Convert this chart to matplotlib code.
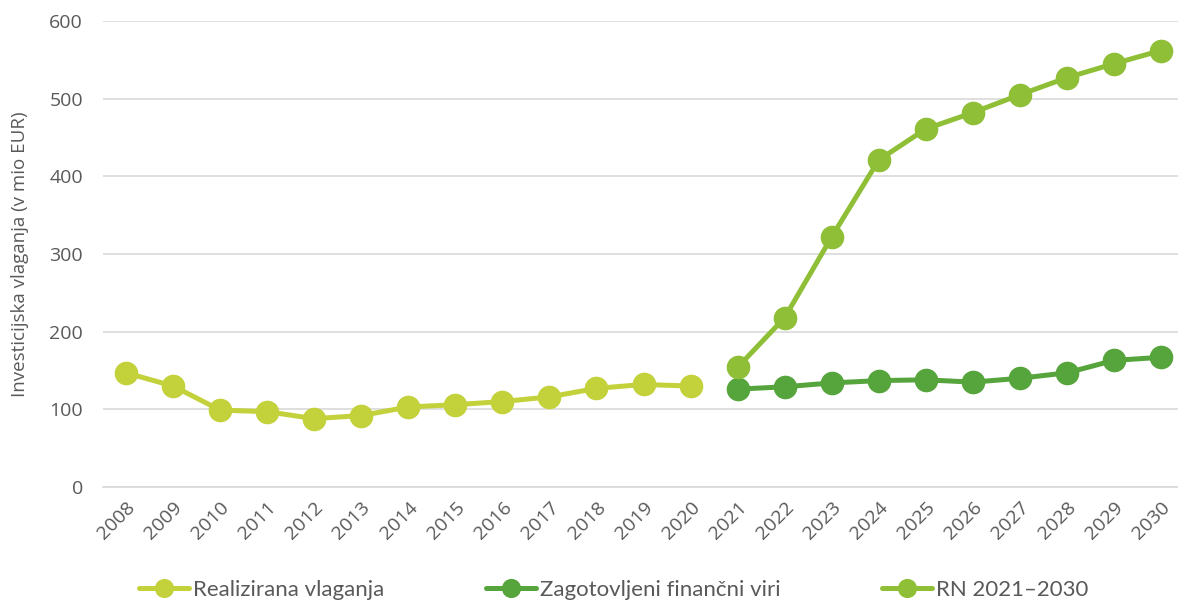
import matplotlib.pyplot as plt

# data
years = [str(y) for y in range(2008, 2031)]
realized_years = years[:13]
realized = [147, 130, 99, 97, 88, 92, 103, 106, 110, 116, 127, 132, 130]
plan_years = years[13:]
secured = [126, 129, 134, 137, 138, 135, 140, 147, 163, 167]
rn_plan = [154, 218, 322, 421, 461, 482, 505, 527, 545, 562]

c_realized = "#C3D13B"
c_secured = "#56A43C"
c_rn = "#8FBF36"
grey = "#595959"

plt.rcParams["font.family"] = ["Open Sans", "DejaVu Sans"]

fig = plt.figure(figsize=(11.78, 6.06), dpi=100)
ax = fig.add_axes([102.5 / 1178, 1 - 487 / 606, 1082 / 1178, 466 / 606])

xr = [years.index(y) for y in realized_years]
xp = [years.index(y) for y in plan_years]

style = dict(linewidth=3.6, marker="o", markersize=16, solid_capstyle="round")
ax.plot(xr, realized, color=c_realized, label="Realizirana vlaganja", **style)
ax.plot(xp, secured, color=c_secured, label="Zagotovljeni finančni viri", **style)
ax.plot(xp, rn_plan, color=c_rn, label="RN 2021–2030", **style)

ax.set_xlim(-0.5, len(years) - 0.5)
ax.set_ylim(0, 600)
ax.set_yticks(range(0, 601, 100))
ax.set_xticks(range(len(years)))
ax.set_xticklabels(years, rotation=45, ha="right", rotation_mode="anchor")
ax.tick_params(axis="both", length=0, colors=grey, labelsize=14)
ax.tick_params(axis="y", pad=14)
ax.tick_params(axis="x", pad=8)

ax.grid(axis="y", color="#D9D9D9", linewidth=1.2)
ax.set_axisbelow(True)
for side in ["left", "right", "top"]:
    ax.spines[side].set_visible(False)
ax.spines["bottom"].set_color("#D9D9D9")
ax.spines["bottom"].set_linewidth(1.2)

ax.set_ylabel("Investicijska vlaganja (v mio EUR)", color=grey, fontsize=13.5)
ax.yaxis.set_label_coords(-0.068, 0.5)

leg = fig.legend(loc="center", bbox_to_anchor=(0.521, 0.026), ncol=3, frameon=False,
                 handlelength=2.25, handletextpad=0.15, columnspacing=4.6,
                 markerscale=0.8, prop={"family": ["Lato", "DejaVu Sans"], "size": 16})
for t in leg.get_texts():
    t.set_color(grey)

fig.savefig("out.png", dpi=100)
